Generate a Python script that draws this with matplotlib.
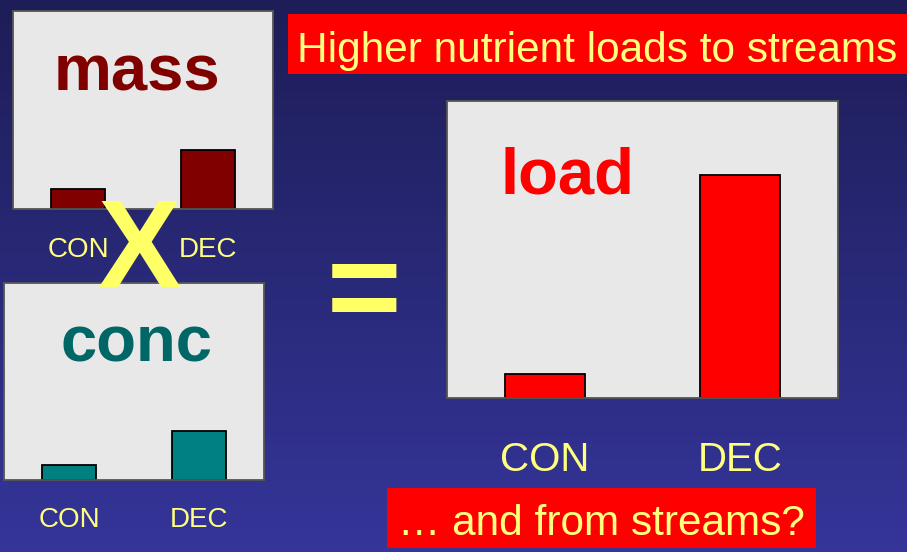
import numpy as np
import matplotlib
matplotlib.use("Agg")
import matplotlib.pyplot as plt
from matplotlib.patches import Rectangle

W, H = 907, 552

categories = ["CON", "DEC"]
mass_values = [1.0, 3.0]
conc_values = [0.75, 2.5]
load_values = [0.8, 7.5]

title_text = "Higher nutrient loads to streams"
footer_text = "\u2026 and from streams?"

COLORS = {
    "mass": "#800000",
    "conc_bar": "#008080",
    "conc_text": "#006666",
    "load": "#FF0000",
    "yellow": "#FFFF80",
    "xsign": "#FFFF66",
    "panel": "#E8E8E8",
}
FONT = ["Liberation Sans", "DejaVu Sans"]
plt.rcParams["font.family"] = FONT

fig = plt.figure(figsize=(W / 100, H / 100), dpi=100)


def px_axes(x0, y0, x1, y1, **kw):
    return fig.add_axes([x0 / W, 1 - y1 / H, (x1 - x0) / W, (y1 - y0) / H], **kw)


# background gradient
bg = px_axes(0, 0, W, H, zorder=-10)
top = np.array([0x1D, 0x1D, 0x57]) / 255
bot = np.array([0x35, 0x35, 0x9A]) / 255
t = np.linspace(0, 1, 256)[:, None]
grad = top[None, :] * (1 - t) + bot[None, :] * t
bg.imshow(grad[:, None, :], aspect="auto", extent=[0, 1, 0, 1])
bg.set_axis_off()


def panel(box, values, bar_color, label, label_color, label_pos, label_size, tick_size, tick_pad):
    ax = px_axes(*box)
    ax.set_facecolor(COLORS["panel"])
    ax.bar(range(len(values)), values, width=0.41, color=bar_color, edgecolor="black", linewidth=1.3)
    ax.set_xlim(-0.5, 1.5)
    ax.set_ylim(0, 10)
    ax.set_yticks([])
    ax.set_xticks(range(len(categories)))
    ax.set_xticklabels(categories, fontsize=tick_size, color=COLORS["yellow"])
    ax.tick_params(axis="x", length=0, pad=tick_pad)
    for s in ax.spines.values():
        s.set_color("#555555")
        s.set_linewidth(1.3)
    ax.text(label_pos[0], label_pos[1], label, transform=ax.transAxes, ha="center", va="baseline",
            fontsize=label_size, fontweight="bold", color=label_color)
    return ax


panel((13, 11, 273, 209), mass_values, COLORS["mass"], "mass", COLORS["mass"], (0.477, 0.60), 47, 20, 20)
panel((4, 283, 264, 480), conc_values, COLORS["conc_bar"], "conc", COLORS["conc_text"], (0.508, 0.60), 47, 20, 19.5)
panel((447, 101, 838, 398), load_values, COLORS["load"], "load", COLORS["load"], (0.308, 0.687), 47, 29, 31)

# title and footer boxes
fig.patches.append(Rectangle((288 / W, 1 - 74 / H), (W - 288) / W, 60 / H, transform=fig.transFigure,
                             facecolor="#FF0000", edgecolor="none", zorder=1))
fig.text(597 / W, 1 - 62 / H, title_text, ha="center", va="baseline", fontsize=30.5, color=COLORS["yellow"])

fig.patches.append(Rectangle((387 / W, 1 - 548 / H), (816 - 387) / W, 60 / H, transform=fig.transFigure,
                             facecolor="#FF0000", edgecolor="none", zorder=1))
fig.text(601 / W, 1 - 535 / H, footer_text, ha="center", va="baseline", fontsize=30.5, color=COLORS["yellow"])

# operators
fig.text(140 / W, 1 - 287 / H, "X", ha="center", va="baseline", fontsize=90, fontweight="bold",
         color=COLORS["xsign"], zorder=5)
fig.text(364 / W, 1 - 330 / H, "=", ha="center", va="baseline", fontsize=92, fontweight="bold",
         color=COLORS["xsign"], zorder=5)

fig.savefig("out.png", dpi=100)
